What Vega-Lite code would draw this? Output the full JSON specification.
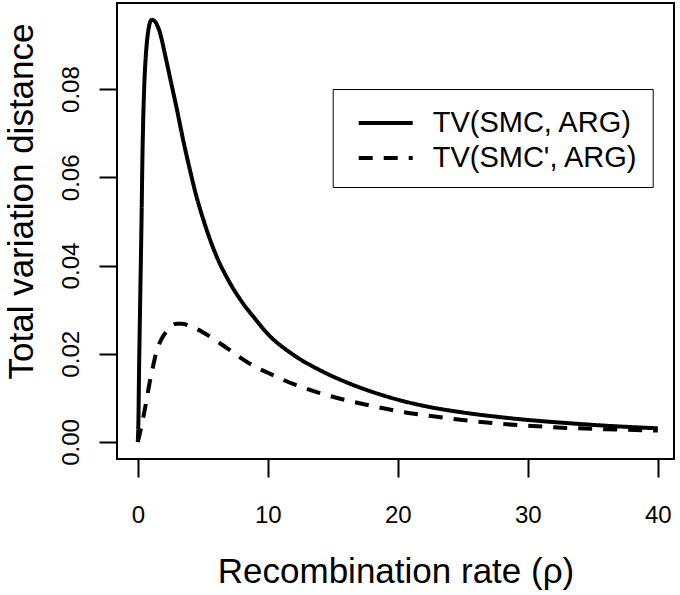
{
  "$schema": "https://vega.github.io/schema/vega-lite/v6.json",
  "width": 557,
  "height": 456,
  "autosize": {"type": "none"},
  "padding": {"left": 117, "top": 3, "right": 6, "bottom": 136},
  "background": "white",
  "config": {
    "font": "Liberation Sans",
    "view": {"stroke": "black", "strokeWidth": 2}
  },
  "data": {"values": [
      {"s": "TV(SMC, ARG)", "rho": 0, "tv": 0}, {"s": "TV(SMC, ARG)", "rho": 0.05, "tv": 0.005}, {"s": "TV(SMC, ARG)", "rho": 0.1, "tv": 0.017}, {"s": "TV(SMC, ARG)", "rho": 0.15, "tv": 0.026},
      {"s": "TV(SMC, ARG)", "rho": 0.2, "tv": 0.035}, {"s": "TV(SMC, ARG)", "rho": 0.25, "tv": 0.0435}, {"s": "TV(SMC, ARG)", "rho": 0.3, "tv": 0.053}, {"s": "TV(SMC, ARG)", "rho": 0.35, "tv": 0.0635},
      {"s": "TV(SMC, ARG)", "rho": 0.4, "tv": 0.071}, {"s": "TV(SMC, ARG)", "rho": 0.5, "tv": 0.081}, {"s": "TV(SMC, ARG)", "rho": 0.6, "tv": 0.0868}, {"s": "TV(SMC, ARG)", "rho": 0.7, "tv": 0.0906},
      {"s": "TV(SMC, ARG)", "rho": 0.8, "tv": 0.0931}, {"s": "TV(SMC, ARG)", "rho": 0.9, "tv": 0.0947}, {"s": "TV(SMC, ARG)", "rho": 1.0, "tv": 0.0955}, {"s": "TV(SMC, ARG)", "rho": 1.1, "tv": 0.0957},
      {"s": "TV(SMC, ARG)", "rho": 1.2, "tv": 0.0956}, {"s": "TV(SMC, ARG)", "rho": 1.3, "tv": 0.0954}, {"s": "TV(SMC, ARG)", "rho": 1.4, "tv": 0.095}, {"s": "TV(SMC, ARG)", "rho": 1.5, "tv": 0.0944},
      {"s": "TV(SMC, ARG)", "rho": 1.6, "tv": 0.0937}, {"s": "TV(SMC, ARG)", "rho": 1.7, "tv": 0.0928}, {"s": "TV(SMC, ARG)", "rho": 1.8, "tv": 0.0917}, {"s": "TV(SMC, ARG)", "rho": 1.9, "tv": 0.0905},
      {"s": "TV(SMC, ARG)", "rho": 2, "tv": 0.0891}, {"s": "TV(SMC, ARG)", "rho": 2.2, "tv": 0.0864}, {"s": "TV(SMC, ARG)", "rho": 2.5, "tv": 0.0823}, {"s": "TV(SMC, ARG)", "rho": 3, "tv": 0.0755},
      {"s": "TV(SMC, ARG)", "rho": 3.5, "tv": 0.0683}, {"s": "TV(SMC, ARG)", "rho": 4, "tv": 0.0618}, {"s": "TV(SMC, ARG)", "rho": 4.5, "tv": 0.0558}, {"s": "TV(SMC, ARG)", "rho": 5, "tv": 0.0508},
      {"s": "TV(SMC, ARG)", "rho": 6, "tv": 0.0425},
      {"s": "TV(SMC, ARG)", "rho": 7, "tv": 0.0365}, {"s": "TV(SMC, ARG)", "rho": 8, "tv": 0.0318}, {"s": "TV(SMC, ARG)", "rho": 9, "tv": 0.028}, {"s": "TV(SMC, ARG)", "rho": 10, "tv": 0.0245},
      {"s": "TV(SMC, ARG)", "rho": 12, "tv": 0.0197}, {"s": "TV(SMC, ARG)", "rho": 14, "tv": 0.0163}, {"s": "TV(SMC, ARG)", "rho": 16, "tv": 0.0136}, {"s": "TV(SMC, ARG)", "rho": 18, "tv": 0.0114},
      {"s": "TV(SMC, ARG)", "rho": 20, "tv": 0.0096}, {"s": "TV(SMC, ARG)", "rho": 22, "tv": 0.0082}, {"s": "TV(SMC, ARG)", "rho": 25, "tv": 0.0067}, {"s": "TV(SMC, ARG)", "rho": 28, "tv": 0.0056},
      {"s": "TV(SMC, ARG)", "rho": 30, "tv": 0.005}, {"s": "TV(SMC, ARG)", "rho": 33, "tv": 0.0043}, {"s": "TV(SMC, ARG)", "rho": 36, "tv": 0.0037}, {"s": "TV(SMC, ARG)", "rho": 40, "tv": 0.0031},
      {"s": "TV(SMC', ARG)", "rho": 0, "tv": 0}, {"s": "TV(SMC', ARG)", "rho": 0.2, "tv": 0.0025}, {"s": "TV(SMC', ARG)", "rho": 0.43, "tv": 0.0057}, {"s": "TV(SMC', ARG)", "rho": 0.7, "tv": 0.01},
      {"s": "TV(SMC', ARG)", "rho": 0.9, "tv": 0.0133}, {"s": "TV(SMC', ARG)", "rho": 1.2, "tv": 0.0175}, {"s": "TV(SMC', ARG)", "rho": 1.4, "tv": 0.0201}, {"s": "TV(SMC', ARG)", "rho": 1.8, "tv": 0.0232},
      {"s": "TV(SMC', ARG)", "rho": 2.2, "tv": 0.025}, {"s": "TV(SMC', ARG)", "rho": 2.6, "tv": 0.0263}, {"s": "TV(SMC', ARG)", "rho": 3.0, "tv": 0.0268}, {"s": "TV(SMC', ARG)", "rho": 3.4, "tv": 0.0268},
      {"s": "TV(SMC', ARG)", "rho": 4, "tv": 0.0263}, {"s": "TV(SMC', ARG)", "rho": 4.4, "tv": 0.0258}, {"s": "TV(SMC', ARG)", "rho": 5, "tv": 0.0249}, {"s": "TV(SMC', ARG)", "rho": 6, "tv": 0.023},
      {"s": "TV(SMC', ARG)", "rho": 7, "tv": 0.021}, {"s": "TV(SMC', ARG)", "rho": 8, "tv": 0.0189}, {"s": "TV(SMC', ARG)", "rho": 9, "tv": 0.0171}, {"s": "TV(SMC', ARG)", "rho": 10, "tv": 0.0157},
      {"s": "TV(SMC', ARG)", "rho": 12, "tv": 0.0131}, {"s": "TV(SMC', ARG)", "rho": 14, "tv": 0.0111}, {"s": "TV(SMC', ARG)", "rho": 16, "tv": 0.0095}, {"s": "TV(SMC', ARG)", "rho": 18, "tv": 0.0082},
      {"s": "TV(SMC', ARG)", "rho": 20, "tv": 0.007}, {"s": "TV(SMC', ARG)", "rho": 22, "tv": 0.0061}, {"s": "TV(SMC', ARG)", "rho": 25, "tv": 0.005}, {"s": "TV(SMC', ARG)", "rho": 28, "tv": 0.0041},
      {"s": "TV(SMC', ARG)", "rho": 30, "tv": 0.0037}, {"s": "TV(SMC', ARG)", "rho": 33, "tv": 0.0032}, {"s": "TV(SMC', ARG)", "rho": 36, "tv": 0.0029}, {"s": "TV(SMC', ARG)", "rho": 40, "tv": 0.0026}
  ]},
  "mark": {"type": "line", "color": "black", "strokeWidth": 4, "interpolate": "monotone", "clip": true},
  "encoding": {
    "x": {
      "field": "rho", "type": "quantitative",
      "scale": {"domain": [-1.6, 41.25], "nice": false, "zero": false},
      "axis": {
        "title": "Recombination rate (ρ)",
        "values": [0, 10, 20, 30, 40],
        "format": "d",
        "domain": false, "grid": false,
        "tickColor": "black", "tickWidth": 2, "tickSize": 18,
        "labelFontSize": 24, "labelColor": "black", "labelPadding": 45,
        "labelBaseline": "alphabetic", "labelFlush": false,
        "titleFontSize": 35, "titleFontWeight": "normal", "titleColor": "black",
        "titleBaseline": "alphabetic", "titleX": 278.5, "titleY": 123
      }
    },
    "y": {
      "field": "tv", "type": "quantitative",
      "scale": {"domain": [-0.00385, 0.0995], "nice": false, "zero": false},
      "axis": {
        "title": "Total variation distance",
        "values": [0, 0.02, 0.04, 0.06, 0.08],
        "format": ".2f",
        "domain": false, "grid": false,
        "tickColor": "black", "tickWidth": 2, "tickSize": 18,
        "labelFontSize": 24, "labelColor": "black", "labelAngle": 270,
        "labelAlign": "center", "labelBaseline": "alphabetic", "labelPadding": 21,
        "labelFlush": false,
        "titleFontSize": 35, "titleFontWeight": "normal", "titleColor": "black",
        "titleBaseline": "alphabetic", "titleAlign": "center", "titleAngle": 270,
        "titleX": -85, "titleY": 198
      }
    },
    "strokeDash": {
      "field": "s", "type": "nominal",
      "scale": {"domain": ["TV(SMC, ARG)", "TV(SMC', ARG)"], "range": [[1, 0], [14, 11]]},
      "legend": {
        "title": null,
        "orient": "none",
        "legendX": 215.7,
        "legendY": 86,
        "strokeColor": "black",
        "padding": 14,
        "symbolType": "M-1.5,0H1.5",
        "symbolSize": 1296,
        "symbolStrokeWidth": 4,
        "symbolStrokeColor": "black",
        "symbolOffset": 19,
        "labelFontSize": 29,
        "labelColor": "black",
        "labelOffset": 27,
        "rowPadding": 0,
        "labelLimit": 400
      }
    }
  }
}
